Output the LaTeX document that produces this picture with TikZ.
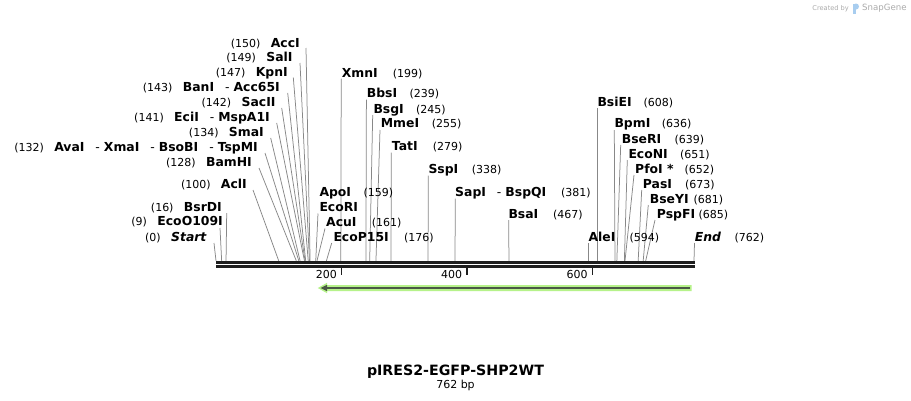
\documentclass[tikz,border=0pt]{standalone}
\usepackage{fontspec}
\setmainfont{DejaVu Sans}
\usetikzlibrary{arrows.meta}
\definecolor{sitegray}{HTML}{888888}
\definecolor{bardark}{HTML}{1E1E1E}
\definecolor{featgreen}{HTML}{B6F28A}
\definecolor{featdark}{HTML}{4A5845}
\definecolor{wmgray}{HTML}{ABABAB}
\definecolor{wmblue}{HTML}{A8CDEF}
\newcommand\sepdash{\hspace{11pt}{\mdseries -}\hspace{4pt}}
% left-side site: id, x right, y centre, name, number, top x, top y, bp
\newcommand\LS[8]{%
  \node[nm,anchor=base east] (#1) at (#2,{#3+4.3}) {#4};
  \node[num,anchor=base east] (#1n) at ([xshift=-10pt]#1.base west) {#5};
  \coordinate (#1t) at (#6,#7);
  \coordinate (#1b) at ({216+#8*0.6272966},260.8);
  \draw[site] (#1t) -- (#1b);
}
% right-side site: id, x left, y centre, name, number x, number, top x, top y, bp
\newcommand\RS[9]{%
  \node[nm,anchor=base west] (#1) at (#2,{#3+4.3}) {#4};
  \node[num,anchor=base west] (#1n) at (#5,{#3+4.3}) {#6};
  \coordinate (#1t) at (#7,#8);
  \coordinate (#1b) at ({216+#9*0.6272966},260.8);
  \draw[site] (#1t) -- (#1b);
}
\begin{document}
\begin{tikzpicture}[x=1pt,y=-1pt,
  nm/.style={font=\fontsize{12.4}{12}\selectfont\bfseries, inner sep=0pt},
  num/.style={font=\fontsize{11}{12}\selectfont, inner sep=0pt},
  site/.style={draw=sitegray, line width=0.75pt},
  barline/.style={draw=bardark, line width=2.6pt},
  tick/.style={draw=bardark, line width=1.5pt},
]
\useasboundingbox[fill=white] (0,0) rectangle (911,400);

% watermark
\node[font=\fontsize{6.6}{7}\selectfont, text=wmgray, inner sep=0pt, anchor=base east] (wm1) at (849,10.7) {Created by};
\fill[wmblue] (853,3.5) rectangle (856,14);
\fill[wmblue] (856,6.5) circle (3);
\node[font=\fontsize{8.6}{9}\selectfont, text=wmgray, inner sep=0pt, anchor=base west] (wm2) at (862,10.7) {SnapGene};

% left-side sites
\LS{accI}{300}{42.7}{AccI}{(150)}{306}{48}{150}
\LS{salI}{292.7}{57}{SalI}{(149)}{300}{63}{149}
\LS{kpnI}{288}{72}{KpnI}{(147)}{293.3}{77.5}{147}
\LS{banI}{280}{87}{BanI\sepdash Acc65I}{(143)}{287.7}{93}{143}
\LS{sacII}{275.7}{102}{SacII}{(142)}{281.7}{108}{142}
\LS{eciI}{270}{117}{EciI\sepdash MspA1I}{(141)}{276.7}{123}{141}
\LS{smaI}{264}{132}{SmaI}{(134)}{270.7}{138}{134}
\LS{avaI}{258}{147}{AvaI\sepdash XmaI\sepdash BsoBI\sepdash TspMI}{(132)}{265}{153}{132}
\LS{bamHI}{252}{162}{BamHI}{(128)}{259}{168}{128}
\LS{aclI}{247}{184}{AclI}{(100)}{253}{190}{100}
\LS{bsrDI}{222}{207}{BsrDI}{(16)}{226.7}{213}{16}
\LS{ecoO}{223}{221.5}{EcoO109I}{(9)}{220}{228}{9}
\LS{start}{207}{237}{\textit{Start}}{(0)}{214}{243}{0}

% middle sites
\RS{xmnI}{341.7}{72.7}{XmnI}{392.7}{(199)}{341.2}{78.5}{199}
\RS{bbsI}{366.7}{93.3}{BbsI}{409.3}{(239)}{366.4}{99.5}{239}
\RS{bsgI}{373.3}{109.3}{BsgI}{416}{(245)}{372.7}{115}{245}
\RS{mmeI}{380.7}{123.5}{MmeI}{431.7}{(255)}{380}{130}{255}
\RS{tatI}{391.7}{146.5}{TatI}{432.7}{(279)}{391.3}{152.5}{279}
\RS{sspI}{428.3}{169.3}{SspI}{471.7}{(338)}{428.3}{175.5}{338}
\RS{sapI}{455}{192.3}{SapI\sepdash BspQI}{561}{(381)}{455.3}{198.5}{381}
\RS{bsaI}{508.3}{214}{BsaI}{553}{(467)}{508.7}{220}{467}
\node[nm,anchor=base west] (apoI) at (319.3,196.6) {ApoI};
\node[num,anchor=base west] (apoIn) at (363.3,196.6) {(159)};
\node[nm,anchor=base west] (ecoRI) at (319.3,211) {EcoRI};
\coordinate (ecoRIt) at (318,213.5);
\coordinate (ecoRIb) at ({216+159*0.6272966},260.8);
\draw[site] (ecoRIt) -- (ecoRIb);
\RS{acuI}{326}{222.3}{AcuI}{371.7}{(161)}{325}{228.5}{161}
\RS{ecoP}{333.3}{236.7}{EcoP15I}{404}{(176)}{331.7}{243}{176}

% right sites
\RS{bsiEI}{597.3}{102}{BsiEI}{643.3}{(608)}{597.4}{108}{608}
\RS{bpmI}{614.3}{123.5}{BpmI}{661.7}{(636)}{614.3}{130}{636}
\RS{bseRI}{621.7}{139}{BseRI}{674.3}{(639)}{620.7}{145}{639}
\RS{ecoNI}{628.3}{154}{EcoNI}{680}{(651)}{627.3}{160}{651}
\RS{pfoI}{635}{169}{PfoI *}{684.3}{(652)}{634}{175}{652}
\RS{pasI}{642.7}{184}{PasI}{685}{(673)}{641.7}{190}{673}
\RS{bseYI}{649.7}{199}{BseYI}{693.3}{(681)}{648.3}{205}{681}
\RS{pspFI}{656.7}{214}{PspFI}{698.3}{(685)}{655}{220}{685}
\RS{aleI}{588.3}{237}{AleI}{629.3}{(594)}{588.6}{243}{594}
\RS{endS}{694.7}{237}{\textit{End}}{734.3}{(762)}{694.5}{243}{762}

% backbone
\coordinate (b0) at (216,262.2);
\coordinate (b1) at (695,262.2);
\coordinate (c0) at (216,266.4);
\coordinate (c1) at (695,266.4);
\draw[barline] (b0) -- (b1);
\draw[barline] (c0) -- (c1);

% ticks
\foreach \v/\nm in {200/t2,400/t4,600/t6}{
  \coordinate (\nm a) at ({216+\v*0.6272966},267);
  \coordinate (\nm b) at ({216+\v*0.6272966},274.5);
  \draw[tick] (\nm a) -- (\nm b);
  \node[num,anchor=base east] (\nm l) at ({216+\v*0.6272966-4.5},278) {\v};
}

% feature arrow
\fill[featgreen] (691.7,285) -- (327,285) -- (327,282.8) -- (317.8,288) -- (327,293.2) -- (327,291) -- (691.7,291) -- cycle;
\coordinate (fa) at (690,288);
\coordinate (fb) at (326,288);
\draw[featdark, line width=1.7pt] (fa) -- (fb);
\fill[featdark] (320.5,288) -- (327,284.8) -- (327,291.2) -- cycle;

% title
\node[font=\fontsize{14.2}{14}\selectfont\bfseries, inner sep=0pt, anchor=base] (title) at (455.5,375) {pIRES2-EGFP-SHP2WT};
\node[num, anchor=base] (len) at (455.5,388.5) {762 bp};
\end{tikzpicture}
\end{document}
